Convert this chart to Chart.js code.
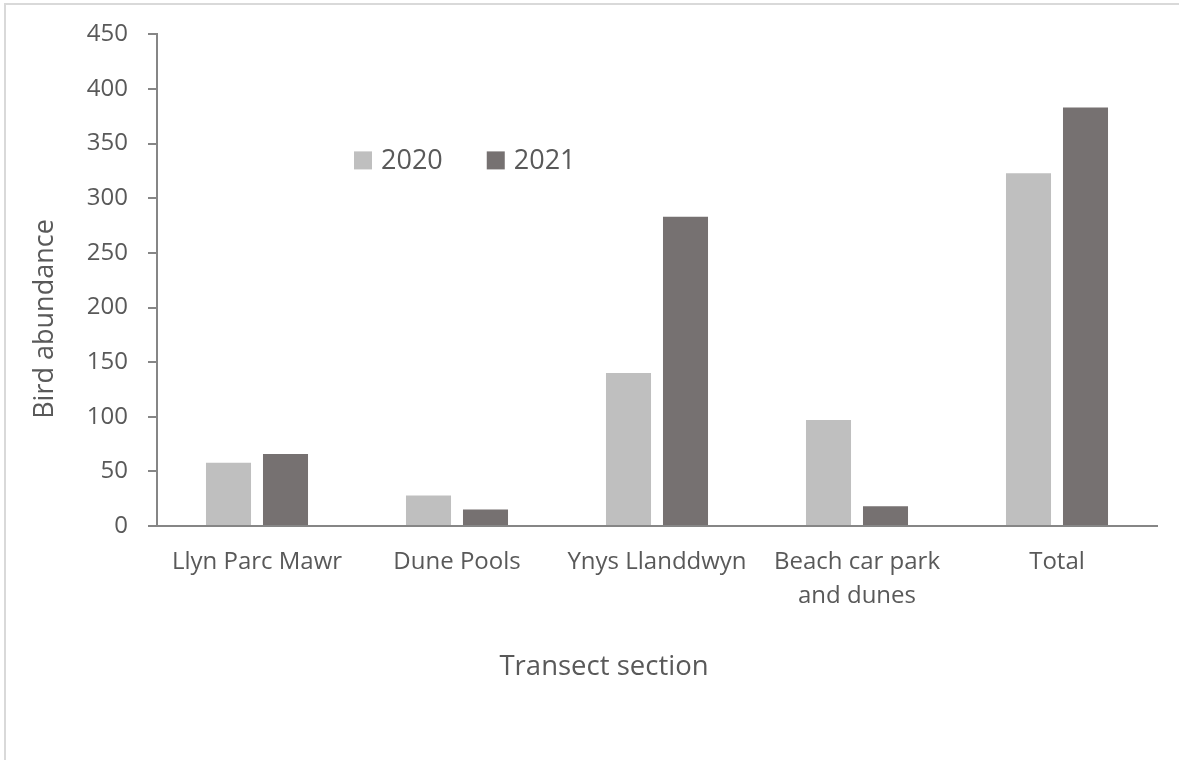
<!DOCTYPE html>
<html>
<head>
<meta charset="utf-8">
<title>Bird abundance by transect section</title>
<script src="https://cdn.jsdelivr.net/npm/chart.js@4.4.0/dist/chart.umd.min.js"></script>
<style>
  html, body { margin: 0; padding: 0; background: #fff; }
  #wrap { position: relative; width: 1179px; height: 760px; overflow: hidden; }
  #frame {
    position: absolute; left: 4px; top: 3px; right: -10px; bottom: -10px;
    border-top: 2px solid #d9d9d9; border-left: 2px solid #d9d9d9;
    pointer-events: none;
  }
  canvas { position: absolute; left: 0; top: 0; }
</style>
</head>
<body>
<div id="wrap">
  <canvas id="chart" width="1179" height="760"></canvas>
  <div id="frame"></div>
</div>
<script>
const sections = ["Llyn Parc Mawr", "Dune Pools", "Ynys Llanddwyn", ["Beach car park", "and dunes"], "Total"];
const seriesNames = ["2020", "2021"];
const abundance2020 = [58, 28, 140, 97, 323];
const abundance2021 = [66, 15, 283, 18, 383];
const yTitle = "Bird abundance";
const xTitle = "Transect section";

const textColor = "#595959";
const axisColor = "#868686";
const fontFamily = "'Open Sans', sans-serif";

// legend sits inside the plot, like the original
const innerLegend = {
  id: "innerLegend",
  afterDraw(chart) {
    const { ctx, chartArea } = chart;
    let x = chartArea.left + 197;
    const y = chartArea.top + 126;
    ctx.save();
    ctx.font = `27px ${fontFamily}`;
    ctx.textBaseline = "middle";
    ctx.textAlign = "left";
    chart.data.datasets.forEach((ds) => {
      ctx.fillStyle = ds.backgroundColor;
      ctx.fillRect(x, y - 9, 18, 18);
      ctx.fillStyle = textColor;
      ctx.fillText(ds.label, x + 27, y + 1);
      x += 27 + ctx.measureText(ds.label).width + 44;
    });
    ctx.restore();
  },
};

// axis titles sit off-centre in the original, so they are drawn here
const axisTitles = {
  id: "axisTitles",
  afterDraw(chart) {
    const { ctx } = chart;
    ctx.save();
    ctx.fillStyle = textColor;
    ctx.textAlign = "center";
    ctx.textBaseline = "middle";

    ctx.font = `27.5px ${fontFamily}`;
    ctx.fillText(xTitle, 604, 667);

    ctx.translate(45, 319);
    ctx.rotate(-Math.PI / 2);
    ctx.font = `27px ${fontFamily}`;
    ctx.fillText(yTitle, 0, 0);
    ctx.restore();
  },
};

new Chart(document.getElementById("chart"), {
  type: "bar",
  data: {
    labels: sections,
    datasets: [
      { label: seriesNames[0], data: abundance2020, backgroundColor: "#bfbfbf" },
      { label: seriesNames[1], data: abundance2021, backgroundColor: "#767171" },
    ],
  },
  options: {
    responsive: false,
    animation: false,
    categoryPercentage: 0.57,
    barPercentage: 0.79,
    layout: { padding: { left: 0, top: 34, right: 22, bottom: 0 } },
    plugins: { legend: { display: false }, tooltip: { enabled: false } },
    scales: {
      x: {
        grid: { display: false, drawTicks: false },
        border: { display: true, color: axisColor, width: 2 },
        ticks: {
          color: textColor,
          padding: 19,
          maxRotation: 0,
          font: { family: fontFamily, size: 24, lineHeight: 1.42 },
        },
        afterFit: (scale) => { scale.height = 234; },
      },
      y: {
        min: 0,
        max: 450,
        ticks: {
          stepSize: 50,
          color: textColor,
          padding: 20,
          font: { family: fontFamily, size: 24 },
        },
        grid: {
          drawOnChartArea: false,
          drawTicks: true,
          tickLength: 9,
          color: axisColor,
          lineWidth: 2,
        },
        border: { display: true, color: axisColor, width: 2 },
        afterFit: (scale) => { scale.width = 157; },
      },
    },
  },
  plugins: [innerLegend, axisTitles],
});
</script>
</body>
</html>
